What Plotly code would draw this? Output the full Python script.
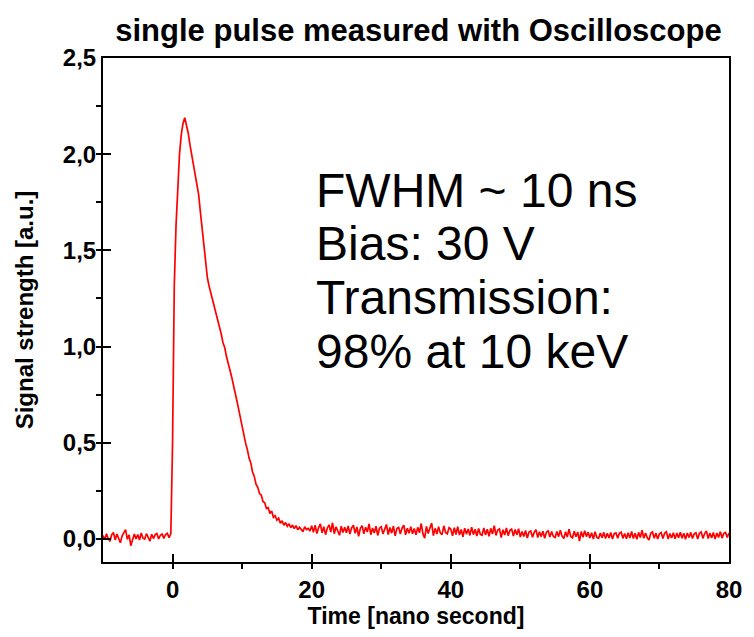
import numpy as np
import plotly.graph_objects as go

# Oscilloscope trace: time in ns (0.25 ns sampling), signal in a.u.
t_start, t_stop = -10.0, 80.0

signal = [
    # -10.00 .. -5.25
    0.018, -0.004, 0.027, 0.001, -0.012, 0.022, 0.033, -0.005, 0.025, 0.004,
    -0.020, 0.016, 0.029, 0.048, -0.002, 0.021, -0.035, 0.003, 0.026, 0.000,
    # -5.00 .. -0.25
    0.023, -0.006, 0.031, 0.004, -0.001, 0.027, 0.006, -0.011, 0.024, 0.002,
    0.022, 0.028, 0.000, 0.019, 0.025, 0.003, 0.023, 0.029, 0.007, 0.026,
    # 0.00 .. 4.75
    0.50, 1.32, 1.63, 1.86, 2.00, 2.10, 2.16, 2.19, 2.15, 2.11,
    2.05, 2.00, 1.95, 1.91, 1.86, 1.79, 1.70, 1.61, 1.53, 1.44,
    # 5.00 .. 9.75
    1.36, 1.315, 1.28, 1.245, 1.215, 1.17, 1.145, 1.10, 1.065, 1.02,
    0.995, 0.948, 0.915, 0.87, 0.842, 0.80, 0.765, 0.718, 0.675, 0.628,
    # 10.00 .. 14.75
    0.585, 0.545, 0.498, 0.465, 0.42, 0.395, 0.348, 0.325, 0.285, 0.268,
    0.236, 0.228, 0.195, 0.188, 0.158, 0.162, 0.132, 0.145, 0.112, 0.121,
    # 15.00 .. 19.75
    0.098, 0.108, 0.082, 0.094, 0.071, 0.085, 0.066, 0.079, 0.058, 0.072,
    0.054, 0.069, 0.047, 0.061, 0.052, 0.038, 0.063, 0.049, 0.055, 0.041,
    # 20.00 .. 24.75
    0.068, 0.034, 0.071, 0.028, 0.059, 0.078, 0.031, 0.064, 0.022, 0.057,
    0.073, 0.036, 0.084, 0.027, 0.063, 0.041, 0.019, 0.066, 0.033, 0.060,
    # 25.00 .. 29.75
    0.032, 0.067, 0.025, 0.058, 0.071, 0.029, 0.062, 0.014, 0.055, 0.069,
    0.027, 0.061, 0.036, 0.078, 0.022, 0.057, 0.031, 0.066, 0.018, 0.056,
    # 30.00 .. 34.75
    0.063, 0.026, 0.054, 0.075, 0.023, 0.059, 0.030, 0.067, 0.016, 0.053,
    0.062, 0.025, 0.057, 0.071, 0.021, 0.055, 0.029, 0.064, 0.027, 0.054,
    # 35.00 .. 39.75
    0.021, 0.060, 0.032, 0.080, 0.026, 0.004, 0.065, 0.028, 0.057, 0.082,
    0.017, 0.055, 0.025, 0.063, 0.030, 0.022, 0.068, 0.034, 0.027, 0.058,
    # 40.00 .. 44.75
    0.051, 0.016, 0.058, 0.023, 0.063, 0.020, 0.049, 0.011, 0.056, 0.025,
    0.052, 0.018, 0.061, 0.022, 0.050, 0.015, 0.054, 0.024, 0.019, 0.057,
    # 45.00 .. 49.75
    0.021, 0.050, 0.014, 0.055, 0.025, 0.069, 0.018, 0.046, 0.052, 0.007,
    0.048, 0.020, 0.057, 0.017, 0.045, 0.051, 0.015, 0.049, 0.022, 0.053,
    # 50.00 .. 54.75
    0.010, 0.038, 0.013, 0.044, 0.005, 0.036, 0.041, 0.009, 0.034, 0.048,
    0.007, 0.037, 0.012, 0.040, 0.003, 0.035, 0.042, 0.010, 0.038, 0.013,
    # 55.00 .. 59.75
    0.008, 0.039, 0.012, 0.045, 0.014, 0.002, 0.037, 0.010, 0.051, 0.013,
    0.006, 0.040, 0.011, 0.036, -0.011, 0.038, 0.009, 0.043, 0.012, 0.035,
    # 60.00 .. 64.75
    0.005, 0.032, -0.001, 0.037, 0.008, 0.003, 0.031, 0.006, 0.034, 0.002,
    0.029, 0.005, 0.033, 0.000, 0.027, 0.031, 0.004, 0.030, 0.035, 0.003,
    # 65.00 .. 69.75
    0.028, 0.001, 0.032, 0.005, 0.039, 0.002, 0.030, -0.002, 0.034, 0.007,
    0.045, 0.003, 0.031, 0.006, -0.006, 0.029, 0.036, 0.004, 0.030, 0.000,
    # 70.00 .. 74.75
    0.027, 0.033, 0.002, 0.029, 0.037, -0.001, 0.028, 0.005, 0.032, 0.001,
    0.030, 0.006, 0.035, 0.003, 0.029, -0.002, 0.031, 0.007, 0.034, 0.002,
    # 75.00 .. 80.00
    0.026, 0.032, 0.000, 0.029, 0.036, 0.003, 0.028, 0.041, 0.002, 0.030,
    0.005, 0.033, -0.001, 0.031, 0.007, 0.038, 0.004, 0.029, 0.034, 0.008,
    0.031,
]

time_ns = np.linspace(t_start, t_stop, len(signal))

x_tick_vals = [0, 20, 40, 60, 80]
x_tick_text = ["0", "20", "40", "60", "80"]
y_tick_vals = [0.0, 0.5, 1.0, 1.5, 2.0, 2.5]
y_tick_text = ["0,0", "0,5", "1,0", "1,5", "2,0", "2,5"]

info_lines = ["FWHM ~ 10 ns", "Bias: 30 V", "Transmission:", "98% at 10 keV"]
info_y = [1.81, 1.535, 1.255, 0.975]   # vertical position of each text line (data units)

bold_font = "Liberation Sans, Arial, sans-serif"
plain_font = "Liberation Sans, Arial, sans-serif"

fig = go.Figure()
fig.add_trace(go.Scatter(
    x=time_ns, y=signal, mode="lines",
    line=dict(color="#ff0000", width=1.7),
    showlegend=False,
))

axis_common = dict(
    showline=True, linecolor="black", linewidth=2, mirror=True,
    showgrid=False, zeroline=False,
    ticks="inside", ticklen=8, tickwidth=2, tickcolor="black",
    tickfont=dict(family=bold_font, size=24, color="black", weight="bold"),
)

fig.update_xaxes(
    range=[-10, 80],
    tickvals=x_tick_vals, ticktext=x_tick_text,
    ticklabelstandoff=5,
    minor=dict(ticks="outside", dtick=10, tick0=0, ticklen=5, tickwidth=2, tickcolor="black"),
    title=dict(text="Time [nano second]",
               font=dict(family=bold_font, size=23, color="black", weight="bold"),
               standoff=6),
    **axis_common,
)
fig.update_yaxes(
    range=[-0.12, 2.5],
    tickvals=y_tick_vals, ticktext=y_tick_text,
    minor=dict(ticks="outside", dtick=0.25, tick0=0, ticklen=5, tickwidth=2, tickcolor="black"),
    title=dict(text="Signal strength [a.u.]",
               font=dict(family=bold_font, size=24, color="black", weight="bold"),
               standoff=22),
    **axis_common,
)

for line_text, line_y in zip(info_lines, info_y):
    fig.add_annotation(
        x=20.3, y=line_y, xref="x", yref="y",
        xanchor="left", yanchor="middle", align="left",
        text=line_text, showarrow=False,
        font=dict(family=plain_font, size=48, color="black"),
    )

fig.update_layout(
    width=754, height=637,
    margin=dict(l=103, r=16, t=58, b=70),
    paper_bgcolor="white", plot_bgcolor="white",
    title=dict(text="single pulse measured with Oscilloscope",
               x=0.555, xanchor="center", y=0.953, yanchor="middle",
               font=dict(family=bold_font, size=31, color="black", weight="bold")),
)

fig.write_html("out.html")
